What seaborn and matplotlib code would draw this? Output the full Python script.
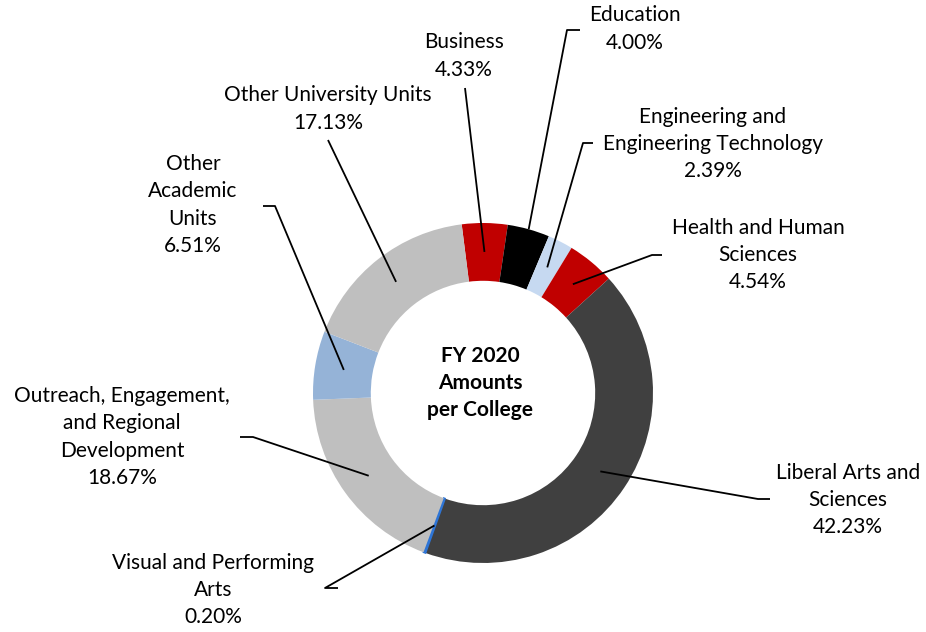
import numpy as np
import matplotlib.pyplot as plt
import seaborn as sns

sns.set_theme(style="white")
plt.rcParams['font.family'] = ['Lato', 'DejaVu Sans']

# Share of FY 2020 amounts per college (%), clockwise from Business
colleges = ['Business', 'Education', 'Engineering and\nEngineering Technology',
            'Health and Human\nSciences', 'Liberal Arts and\nSciences',
            'Visual and Performing\nArts', 'Outreach, Engagement,\nand Regional\nDevelopment',
            'Other\nAcademic\nUnits', 'Other University Units']
shares = [4.33, 4.00, 2.39, 4.54, 42.23, 0.20, 18.67, 6.51, 17.13]
colors = ['#C00000', '#000000', '#C6D9F1', '#C00000', '#404040',
          '#2E75D6', '#BFBFBF', '#95B3D7', '#BFBFBF']

# Layout in pixel space of the 926x632 canvas
W, H = 926, 632
CX, CY, R = 483, 393, 170

def px(x, y):
    return (x - CX) / R, (CY - y) / R

# label centre and leader path (text side -> wedge), in pixels
label_pos = [(464, 56), (635, 29), (713, 144), (758, 255), (848, 500),
             (213, 590), (122, 437), (193, 205), (328, 109)]
leader_paths = [[(465, 88)],
                [(580, 30), (567, 30)],
                [(593, 143), (583, 143)],
                [(662, 255), (652, 255)],
                [(770, 499), (758, 499)],
                [(338, 588), (325, 588)],
                [(240, 437), (253, 437)],
                [(263, 206), (275, 206)],
                [(328, 140)]]
leader_r = [0.83, 1.0, 0.83, 0.83, 0.83, 0.83, 0.83, 0.83, 0.83]

fig = plt.figure(figsize=(9.26, 6.32), dpi=100)
ax = fig.add_axes([0, 0, 1, 1])

wedges, _ = ax.pie(shares, colors=colors, startangle=97.2, counterclock=False,
                   radius=1, wedgeprops=dict(width=0.34, linewidth=0))
# the tiny slice needs an outline to be visible
wedges[5].set_edgecolor(colors[5])
wedges[5].set_linewidth(1.2)

for w, name, val, pos, path, r in zip(wedges, colleges, shares, label_pos, leader_paths, leader_r):
    mid = np.deg2rad((w.theta1 + w.theta2) / 2)
    pts = [px(*p) for p in path] + [(r * np.cos(mid), r * np.sin(mid))]
    xs, ys = zip(*pts)
    ax.plot(xs, ys, color='black', lw=1.3, solid_capstyle='butt')
    tx, ty = px(*pos)
    ax.text(tx, ty, f"{name}\n{val:.2f}%", ha='center', va='center',
            fontsize=15, linespacing=1.46, color='black')

ax.text(*px(480, 383), "FY 2020\nAmounts\nper College", ha='center', va='center',
        fontsize=15, fontweight='bold', linespacing=1.43, color='black')

ax.set_xlim(-CX / R, (W - CX) / R)
ax.set_ylim(-(H - CY) / R, CY / R)
ax.set_aspect('equal')
ax.axis('off')

fig.savefig('out.png', dpi=100, facecolor='white')
